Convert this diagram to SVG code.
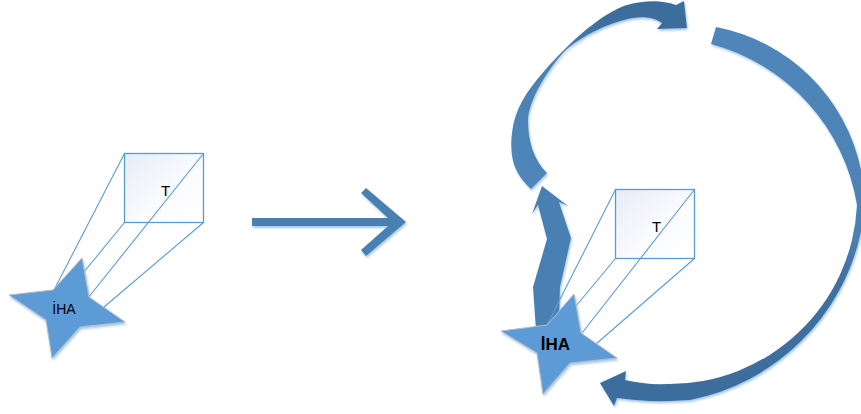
<svg xmlns="http://www.w3.org/2000/svg" width="861" height="414" viewBox="0 0 861 414">
<style>
.face{fill:url(#boxfill);stroke:#5b9bd5;stroke-width:1.3}
.edge{fill:none;stroke:#5b9bd5;stroke-width:1.1}
.star{fill:#5b9bd5;stroke:#b8bcc0;stroke-width:1;filter:url(#shadow)}
.lbl{font-family:"Liberation Sans",Arial,sans-serif;fill:#000}
.arrow{filter:url(#shadow)}
</style>
<defs>
<linearGradient id="boxfill" x1="0" y1="0" x2="1" y2="1"><stop offset="0" stop-color="#e8ecf6"/><stop offset="0.6" stop-color="#fbfcfe"/><stop offset="1" stop-color="#fff"/></linearGradient>
<linearGradient id="topArc" gradientUnits="userSpaceOnUse" x1="525" y1="180" x2="680" y2="10"><stop offset="0" stop-color="#4f86b9"/><stop offset="0.5" stop-color="#4a7fb1"/><stop offset="0.75" stop-color="#3d6d9c"/><stop offset="1" stop-color="#3d6d9c"/></linearGradient>
<linearGradient id="rightArc" gradientUnits="userSpaceOnUse" x1="780" y1="30" x2="760" y2="390"><stop offset="0" stop-color="#4f86b9"/><stop offset="0.55" stop-color="#4c82b4"/><stop offset="0.68" stop-color="#3f709f"/><stop offset="1" stop-color="#3d6d9c"/></linearGradient>
<filter id="shadow" x="-10%" y="-10%" width="125%" height="125%"><feDropShadow dx="1" dy="2" stdDeviation="1" flood-color="#8fbbe6" flood-opacity="0.8"/></filter>
</defs>
<g id="connectors">
<path class="arrow" fill="#4a80b3" d="M252 218H388L361 193L366 188L406 222L366 256L361 250L388 226H252Z"/>
<path class="arrow" fill="url(#topArc)" d="M531 189L547 173C534 160 528 142 528 120C529 100 546 72 563 53C580 36 610 22 633 18C645 16 655 18 662 23L657 29L687 28L684 1L676 5C662 0 645 0 627 5C610 10 585 28 557 57C540 75 522 95 515 118C510 135 510 155 515 167C519 177 525 183 531 189Z"/>
<path class="arrow" fill="url(#rightArc)" d="M716 27A183 183 0 0 1 861 170V232A218 218 0 0 1 690 400Q650 403 617 398L614 406L600 383L626 371L625 380Q646 385 667 384A188 188 0 0 0 857 205A200 200 0 0 0 711 44Z"/>
<path class="arrow" fill="#4a80b3" d="M542 186L568 206L559 202L571 238L560 287L559 320L536 330L533 287L547 239L538 205L532 214Z"/>
</g>
<g id="node-cube-left">
<rect class="face" x="124.5" y="153.5" width="79" height="69"/>
<path class="edge" d="M124.5 153.5L54 290M124.5 222.5L84 272M203.5 153.5L88 298M203.5 222.5L104 307"/>
<text class="lbl" x="165.5" y="196" font-size="15" text-anchor="middle">T</text>
</g>
<g id="node-iha-left">
<path class="star" d="M9 295L53 290L82 258L89 297L125 322L80 327L52 358L46 320Z"/>
<text class="lbl" x="64" y="314" font-size="14" text-anchor="middle">İHA</text>
</g>
<g id="node-cube-right">
<rect class="face" x="615.5" y="189.5" width="79" height="69"/>
<path class="edge" d="M615.5 189.5L547 325M615.5 258.5L576 306M694.5 189.5L582 333M694.5 258.5L596 344"/>
<text class="lbl" x="656.5" y="232" font-size="15" text-anchor="middle">T</text>
</g>
<g id="node-iha-right">
<path class="star" d="M501 331L547 325L574 294L581 333L617 358L570 363L543 394L537 353Z"/>
<text class="lbl" x="555.5" y="350" font-size="17" font-weight="bold" text-anchor="middle">İHA</text>
</g>
</svg>
